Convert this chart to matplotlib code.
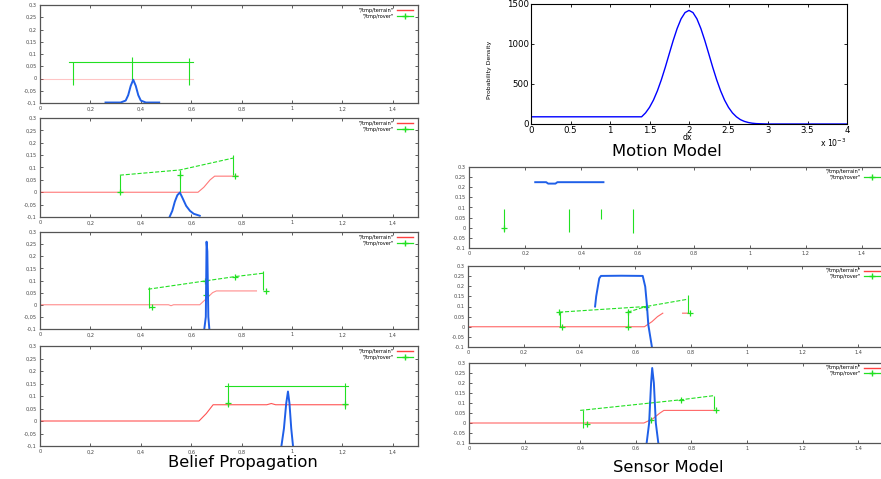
import numpy as np
import matplotlib.pyplot as plt
from matplotlib.lines import Line2D
from matplotlib.ticker import FuncFormatter, MultipleLocator

W, H = 881, 479

RED = '#ff4040'
GREEN = '#22e022'
BLUE = '#1f5fe8'

# motion model, dx in units of 1e-3
motion_dx = [0.0, 1.40, 1.45, 1.50, 1.55, 1.60, 1.65, 1.70, 1.75, 1.80, 1.85, 1.90, 1.95, 2.00,
             2.05, 2.10, 2.15, 2.20, 2.25, 2.30, 2.35, 2.40, 2.45, 2.50, 2.55, 2.60, 2.65, 2.70,
             2.75, 2.80, 2.85, 2.90, 3.00, 4.00]
motion_pdf = [90, 90, 139, 208, 299, 415, 553, 710, 878, 1044, 1194, 1315, 1393, 1420,
              1393, 1315, 1194, 1044, 878, 710, 553, 415, 299, 208, 139, 90, 55, 33,
              19, 10, 5, 3, 0, 0]

# belief propagation, step 1
bp1_terrain_x = [0.0, 0.608]
bp1_terrain_y = [0.0, 0.0]
bp1_rover_x = [0.116, 0.608]
bp1_rover_y = [0.069, 0.069]
bp1_leg_x = [0.132, 0.366, 0.592]
bp1_leg_top = [0.069, 0.088, 0.084]
bp1_leg_bot = [-0.025, -0.005, -0.025]
bp1_mark_x = []
bp1_mark_y = []
bp1_belief_x = [0.26, 0.32, 0.34, 0.35, 0.36, 0.37, 0.38, 0.39, 0.40, 0.42, 0.473]
bp1_belief_y = [-0.098, -0.098, -0.09, -0.068, -0.03, -0.005, -0.03, -0.068, -0.09, -0.098, -0.098]

# step 2
bp2_terrain_x = [0.0, 0.627, 0.65, 0.675, 0.693, 0.786]
bp2_terrain_y = [0.0, 0.0, 0.02, 0.05, 0.065, 0.065]
bp2_rover_x = [0.317, 0.555, 0.766]
bp2_rover_y = [0.069, 0.09, 0.138]
bp2_leg_x = [0.317, 0.555, 0.766]
bp2_leg_top = [0.069, 0.09, 0.151]
bp2_leg_bot = [-0.002, 0.0, 0.068]
bp2_mark_x = [0.317, 0.555, 0.772]
bp2_mark_y = [0.0, 0.069, 0.065]
bp2_belief_x = [0.515, 0.525, 0.535, 0.545, 0.555, 0.565, 0.58, 0.595, 0.61, 0.634]
bp2_belief_y = [-0.098, -0.075, -0.038, -0.012, -0.001, -0.022, -0.055, -0.075, -0.087, -0.095]

# step 3
bp3_terrain_x = [0.0, 0.51, 0.52, 0.53, 0.634, 0.66, 0.685, 0.70, 0.859]
bp3_terrain_y = [0.0, 0.0, -0.004, 0.0, 0.0, 0.025, 0.05, 0.057, 0.057]
bp3_rover_x = [0.429, 0.654, 0.773, 0.885]
bp3_rover_y = [0.064, 0.098, 0.116, 0.13]
bp3_leg_x = [0.432, 0.66, 0.885]
bp3_leg_top = [0.075, 0.098, 0.14]
bp3_leg_bot = [-0.014, 0.04, 0.062]
bp3_mark_x = [0.443, 0.654, 0.773, 0.898, 0.66]
bp3_mark_y = [-0.011, 0.098, 0.116, 0.057, 0.04]
bp3_belief_x = [0.652, 0.658, 0.661, 0.664, 0.668, 0.672]
bp3_belief_y = [-0.1, -0.05, 0.26, 0.22, -0.05, -0.1]

# step 4
bp4_terrain_x = [0.0, 0.631, 0.66, 0.687, 0.90, 0.918, 0.935, 1.222]
bp4_terrain_y = [0.0, 0.0, 0.03, 0.065, 0.065, 0.07, 0.065, 0.065]
bp4_rover_x = [0.733, 1.222]
bp4_rover_y = [0.142, 0.142]
bp4_leg_x = [0.746, 1.209]
bp4_leg_top = [0.154, 0.154]
bp4_leg_bot = [0.057, 0.05]
bp4_mark_x = [0.746, 1.209]
bp4_mark_y = [0.072, 0.068]
bp4_belief_x = [0.958, 0.968, 0.977, 0.984, 0.99, 0.997, 1.004]
bp4_belief_y = [-0.1, -0.03, 0.07, 0.118, 0.07, -0.03, -0.1]

# sensor model, step 1
sm1_terrain_x = []
sm1_terrain_y = []
sm1_rover_x = []
sm1_rover_y = []
sm1_leg_x = [0.125, 0.356, 0.472, 0.586]
sm1_leg_top = [0.093, 0.093, 0.093, 0.093]
sm1_leg_bot = [-0.021, -0.021, 0.044, -0.027]
sm1_mark_x = [0.125]
sm1_mark_y = [0.0]
sm1_belief_x = [0.236, 0.275, 0.282, 0.308, 0.315, 0.479]
sm1_belief_y = [0.225, 0.225, 0.218, 0.218, 0.225, 0.225]

# step 2
sm2_terrain_x = [0.0, 0.633, 0.66, 0.68, 0.699, np.nan, 0.77, 0.79]
sm2_terrain_y = [0.0, 0.0, 0.025, 0.05, 0.067, np.nan, 0.067, 0.067]
sm2_rover_x = [0.327, 0.639, 0.789, np.nan, 0.573, 0.639]
sm2_rover_y = [0.072, 0.1, 0.136, np.nan, 0.072, 0.1]
sm2_leg_x = [0.33, 0.573, 0.789]
sm2_leg_top = [0.072, 0.072, 0.157]
sm2_leg_bot = [0.0, 0.0, 0.067]
sm2_mark_x = [0.339, 0.573, 0.573, 0.639, 0.795, 0.327]
sm2_mark_y = [0.0, 0.072, 0.0, 0.1, 0.067, 0.072]
sm2_belief_x = [0.456, 0.46, 0.471, 0.477, 0.55, 0.627, 0.636, 0.642, 0.647, 0.66]
sm2_belief_y = [0.1, 0.15, 0.239, 0.251, 0.252, 0.251, 0.198, 0.108, 0.01, -0.1]

# step 3
sm3_terrain_x = [0.0, 0.629, 0.66, 0.685, 0.701, 0.888]
sm3_terrain_y = [0.0, 0.0, 0.02, 0.048, 0.063, 0.063]
sm3_rover_x = [0.4, 0.653, 0.761, 0.882]
sm3_rover_y = [0.063, 0.1, 0.116, 0.137]
sm3_leg_x = [0.41, 0.647, 0.882]
sm3_leg_top = [0.063, 0.11, 0.137]
sm3_leg_bot = [-0.025, 0.0, 0.07]
sm3_mark_x = [0.424, 0.653, 0.761, 0.888]
sm3_mark_y = [-0.005, 0.017, 0.116, 0.063]
sm3_belief_x = [0.639, 0.648, 0.655, 0.659, 0.665, 0.672, 0.681]
sm3_belief_y = [-0.1, 0.0, 0.2, 0.275, 0.2, 0.0, -0.1]

x_ticks = [0, 0.2, 0.4, 0.6, 0.8, 1.0, 1.2, 1.4]
y_ticks = [-0.1, -0.05, 0, 0.05, 0.1, 0.15, 0.2, 0.25, 0.3]


def box(left, top, right, bottom):
    return [left / W, 1 - bottom / H, (right - left) / W, (bottom - top) / H]


def gnuplot_axes(fig, rect, comma):
    ax = fig.add_axes(rect)
    ax.set_xlim(0, 1.5)
    ax.set_ylim(-0.1, 0.3)
    ax.set_xticks(x_ticks)
    ax.set_yticks(y_ticks)
    if comma:
        fmt = FuncFormatter(lambda v, p: ('%g' % round(v, 3)).replace('.', ','))
    else:
        fmt = FuncFormatter(lambda v, p: '%g' % round(v, 3))
    ax.xaxis.set_major_formatter(fmt)
    ax.yaxis.set_major_formatter(fmt)
    ax.tick_params(direction='in', top=True, right=True, length=2.5, width=0.6,
                   labelsize=3.6, labelcolor='#444444', pad=2.5, color='#444444')
    for s in ax.spines.values():
        s.set_color('#555555')
        s.set_linewidth(0.9)
    return ax


def draw_panel(ax, terrain_x, terrain_y, rover_x, rover_y, leg_x, leg_top, leg_bot,
               mark_x, mark_y, belief_x, belief_y, rover_ls='--', red_alpha=0.8,
               show_terrain_key=True, right_pad=5):
    ax.plot(terrain_x, terrain_y, color=RED, lw=0.8, alpha=red_alpha)
    ax.plot(rover_x, rover_y, color=GREEN, lw=0.8, ls=rover_ls)
    ax.vlines(leg_x, leg_bot, leg_top, color=GREEN, lw=0.8)
    ax.plot(mark_x, mark_y, '+', color=GREEN, ms=5, mew=0.9)
    ax.plot(belief_x, belief_y, color=BLUE, lw=1.4)
    handles = [Line2D([], [], color=RED if show_terrain_key else 'none', lw=1.0),
               Line2D([], [], color=GREEN, lw=0.9, marker='+', ms=5)]
    bb = ax.get_position()
    pad_x = right_pad / (bb.width * W)
    ax.legend(handles, ['"/tmp/terrain"', '"/tmp/rover"'], loc='upper right',
              bbox_to_anchor=(1 - pad_x, 0.97), frameon=False, markerfirst=False,
              fontsize=3.6, handlelength=3.2, handletextpad=0.6, labelspacing=0.15,
              borderpad=0, borderaxespad=0)


fig = plt.figure(figsize=(W / 100, H / 100), dpi=100)

# belief propagation column
ax = gnuplot_axes(fig, box(40, 5, 418, 103), True)
draw_panel(ax, bp1_terrain_x, bp1_terrain_y, bp1_rover_x, bp1_rover_y, bp1_leg_x,
           bp1_leg_top, bp1_leg_bot, bp1_mark_x, bp1_mark_y, bp1_belief_x, bp1_belief_y,
           rover_ls='-', red_alpha=0.3)
ax = gnuplot_axes(fig, box(40, 118, 418, 217), True)
draw_panel(ax, bp2_terrain_x, bp2_terrain_y, bp2_rover_x, bp2_rover_y, bp2_leg_x,
           bp2_leg_top, bp2_leg_bot, bp2_mark_x, bp2_mark_y, bp2_belief_x, bp2_belief_y,
           red_alpha=0.7)
ax = gnuplot_axes(fig, box(40, 232, 418, 329), True)
draw_panel(ax, bp3_terrain_x, bp3_terrain_y, bp3_rover_x, bp3_rover_y, bp3_leg_x,
           bp3_leg_top, bp3_leg_bot, bp3_mark_x, bp3_mark_y, bp3_belief_x, bp3_belief_y,
           red_alpha=0.6)
ax = gnuplot_axes(fig, box(40, 346, 418, 446), True)
draw_panel(ax, bp4_terrain_x, bp4_terrain_y, bp4_rover_x, bp4_rover_y, bp4_leg_x,
           bp4_leg_top, bp4_leg_bot, bp4_mark_x, bp4_mark_y, bp4_belief_x, bp4_belief_y,
           rover_ls='-', red_alpha=0.9)
fig.text(243 / W, 1 - 463 / H, 'Belief Propagation', ha='center', va='center', fontsize=11.8)

# sensor model column
ax = gnuplot_axes(fig, box(469, 167, 890, 248), False)
draw_panel(ax, sm1_terrain_x, sm1_terrain_y, sm1_rover_x, sm1_rover_y, sm1_leg_x,
           sm1_leg_top, sm1_leg_bot, sm1_mark_x, sm1_mark_y, sm1_belief_x, sm1_belief_y,
           show_terrain_key=False, right_pad=10)
ax = gnuplot_axes(fig, box(468, 266, 886, 347), False)
draw_panel(ax, sm2_terrain_x, sm2_terrain_y, sm2_rover_x, sm2_rover_y, sm2_leg_x,
           sm2_leg_top, sm2_leg_bot, sm2_mark_x, sm2_mark_y, sm2_belief_x, sm2_belief_y,
           right_pad=6)
ax = gnuplot_axes(fig, box(469, 363, 886, 443), False)
draw_panel(ax, sm3_terrain_x, sm3_terrain_y, sm3_rover_x, sm3_rover_y, sm3_leg_x,
           sm3_leg_top, sm3_leg_bot, sm3_mark_x, sm3_mark_y, sm3_belief_x, sm3_belief_y,
           right_pad=6)
fig.text(668 / W, 1 - 467 / H, 'Sensor Model', ha='center', va='center', fontsize=11.8)

# motion model
ax = fig.add_axes(box(531, 4, 847, 124))
ax.plot(motion_dx, motion_pdf, color='#0000ff', lw=1.0)
ax.set_xlim(0, 4)
ax.set_ylim(0, 1500)
ax.xaxis.set_major_locator(MultipleLocator(0.5))
ax.yaxis.set_major_locator(MultipleLocator(500))
ax.xaxis.set_major_formatter(FuncFormatter(lambda v, p: '%g' % v))
ax.tick_params(direction='in', top=True, right=True, length=2.5, width=0.6,
               labelsize=6.2, pad=1.5)
for s in ax.spines.values():
    s.set_linewidth(0.8)
fig.text(687 / W, 1 - 138 / H, 'dx', ha='center', va='center', fontsize=5.6)
ax.set_ylabel('Probability Density', fontsize=4.4, labelpad=4)
ax.yaxis.set_label_coords(-0.125, 0.45)
ax.text(1.0, -0.16, r'x 10$^{-3}$', transform=ax.transAxes, ha='right', va='center',
        fontsize=5.6)
fig.text(667 / W, 1 - 152 / H, 'Motion Model', ha='center', va='center', fontsize=11.8)

fig.savefig('out.png', dpi=100)
